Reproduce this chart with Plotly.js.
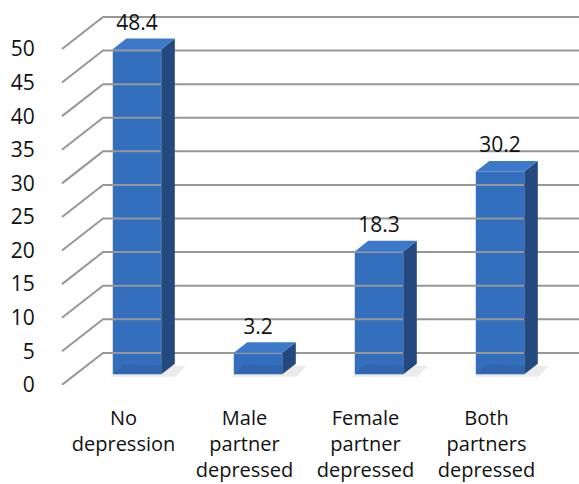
<!DOCTYPE html>
<html>
<head>
<meta charset="utf-8">
<script src="https://cdn.plot.ly/plotly-3.0.1.min.js"></script>
<style>html,body{margin:0;padding:0;background:#fff;}#chart{width:579px;height:484px;}</style>
</head>
<body>
<div id="chart"></div>
<script>
// ---- data ----
var categories = ["No<br>depression", "Male<br>partner<br>depressed", "Female<br>partner<br>depressed", "Both<br>partners<br>depressed"];
var values = [48.4, 3.2, 18.3, 30.2];
var valueLabels = ["48.4", "3.2", "18.3", "30.2"];
var yTicks = [0, 5, 10, 15, 20, 25, 30, 35, 40, 45, 50];

// ---- 3D geometry (axis units) ----
var pxPerX = 121, pxPerY = 6.72;
var depthX = 41 / pxPerX, depthY = 32 / pxPerY; // front->back wall
var d0 = 0.33, d1 = 0.66;                         // bar depth span
var barW = 48.5 / pxPerX;
var plotLeftPx = 56, plotRightPx = 579, plotBottomPx = 385;
var catCenterPx0 = 123.5;
var xMin = (plotLeftPx - catCenterPx0) / pxPerX;
var xMax = (plotRightPx - catCenterPx0) / pxPerX;
var xFront = (62 - catCenterPx0) / pxPerX;
var yMax = plotBottomPx / pxPerY;

var traces = [];
// gridlines (floor-to-wall perspective)
yTicks.forEach(function (t) {
  traces.push({
    type: 'scatter', mode: 'lines', hoverinfo: 'skip', showlegend: false,
    x: [xFront, xFront + depthX, xMax + 1],
    y: [t, t + depthY, t + depthY],
    line: {color: '#979797', width: 2}
  });
});

var ox0 = d0 * depthX, oy0 = d0 * depthY;
var ddx = (d1 - d0) * depthX, ddy = (d1 - d0) * depthY;

// bar shadows on floor
values.forEach(function (v, i) {
  var xl = i + ox0 - barW / 2 - 0.02, xr = i + ox0 + barW / 2 + ddx * 1.5;
  var yb = oy0 - 0.35;
  traces.push({
    type: 'scatter', mode: 'lines', fill: 'toself', hoverinfo: 'skip', showlegend: false,
    x: [xl, xr - 0.05, xr + ddx * 0.3, xl + ddx, xl],
    y: [yb, yb, yb + ddy, yb + ddy + 0.3, yb],
    line: {width: 0}, fillcolor: 'rgba(0,0,0,0.08)'
  });
});

// front faces as real bars
traces.push({
  type: 'bar', hoverinfo: 'skip', showlegend: false,
  x: values.map(function (v, i) { return i + ox0; }),
  y: values,
  base: values.map(function () { return oy0; }),
  width: barW,
  marker: {color: '#346fbe', line: {width: 0}}
});

// side & top faces
values.forEach(function (v, i) {
  var xl = i + ox0 - barW / 2, xr = i + ox0 + barW / 2;
  var yb = oy0, yt = v + oy0;
  traces.push({
    type: 'scatter', mode: 'lines', fill: 'toself', hoverinfo: 'skip', showlegend: false,
    x: [xr, xr, xr + ddx, xr + ddx, xr],
    y: [yb, yt, yt + ddy, yb + ddy, yb],
    line: {width: 0}, fillcolor: '#24497f'
  });
  traces.push({
    type: 'scatter', mode: 'lines', fill: 'toself', hoverinfo: 'skip', showlegend: false,
    x: [xl, xr, xr + ddx, xl + ddx, xl],
    y: [yt, yt, yt + ddy, yt + ddy, yt],
    line: {width: 0}, fillcolor: '#3c79ca'
  });
});

// value labels
traces.push({
  type: 'scatter', mode: 'text', hoverinfo: 'skip', showlegend: false, cliponaxis: false,
  x: values.map(function (v, i) { return i + ox0; }),
  y: values.map(function (v) { return v + d1 * depthY + 0.5; }),
  text: valueLabels, textposition: 'top center',
  textfont: {family: 'Open Sans, sans-serif', size: 21, color: '#111'}
});

var layout = {
  width: 579, height: 484,
  margin: {l: plotLeftPx, r: 0, t: 0, b: 484 - plotBottomPx, pad: 0},
  paper_bgcolor: '#fff', plot_bgcolor: 'rgba(0,0,0,0)',
  showlegend: false, barmode: 'overlay',
  font: {family: 'Open Sans, sans-serif', size: 20, color: '#111'},
  xaxis: {
    range: [xMin, xMax], showgrid: false, zeroline: false, showline: false,
    tickmode: 'array', tickvals: [0, 1, 2, 3], ticktext: categories,
    ticks: 'outside', ticklen: 15, tickcolor: 'rgba(0,0,0,0)',
    tickfont: {size: 20, color: '#111'}, fixedrange: true
  },
  yaxis: {
    range: [-0.02, yMax], showgrid: false, zeroline: false, showline: false,
    tickmode: 'array', tickvals: yTicks, ticktext: yTicks.map(String),
    ticks: 'outside', ticklen: 16, tickcolor: 'rgba(0,0,0,0)',
    tickfont: {size: 21, color: '#111'}, fixedrange: true
  }
};

Plotly.newPlot('chart', traces, layout, {displayModeBar: false, staticPlot: true});
</script>
</body>
</html>
